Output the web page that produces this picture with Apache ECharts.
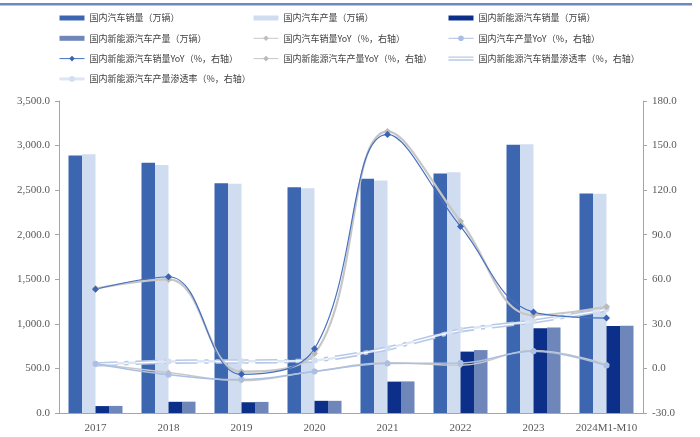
<!DOCTYPE html>
<html>
<head>
<meta charset="utf-8">
<script src="https://cdn.jsdelivr.net/npm/echarts@6/dist/echarts.min.js"></script>
<style>
  html, body { margin: 0; padding: 0; background: #fff; }
  #chart { width: 700px; height: 437px; }
</style>
</head>
<body>
<div id="chart"></div>
<script>
// China auto / NEV output and sales, 2017 – 2024M1-M10
const categories = ['2017', '2018', '2019', '2020', '2021', '2022', '2023', '2024M1-M10'];

// 万辆 (left axis)
const autoSales = [2887.9, 2808.1, 2576.9, 2531.1, 2627.5, 2686.4, 3009.4, 2462.6];
const autoOutput = [2901.5, 2780.9, 2572.1, 2522.5, 2608.2, 2702.1, 3016.1, 2459.0];
const nevSales = [77.7, 125.6, 120.6, 136.7, 352.1, 688.7, 949.5, 975.0];
const nevOutput = [79.4, 127.0, 124.2, 136.6, 354.5, 705.8, 958.7, 977.9];

// % (right axis)
const autoSalesYoY = [3.0, -2.8, -8.2, -1.9, 3.8, 2.2, 12.0, 2.7];
const autoOutputYoY = [3.2, -4.2, -7.5, -2.0, 3.4, 3.6, 11.6, 1.9];
const nevSalesYoY = [53.3, 61.7, -4.0, 13.3, 157.5, 95.6, 37.9, 33.9];
const nevOutputYoY = [53.8, 59.9, -2.2, 10.0, 159.5, 99.1, 35.8, 41.5];
const nevSalesShare = [2.7, 4.5, 4.7, 5.4, 13.4, 25.6, 31.6, 39.6];
const nevOutputShare = [2.7, 4.6, 4.8, 5.4, 13.6, 26.1, 31.8, 40.0];

const N = {
  autoSales: '国内汽车销量（万辆）',
  autoOutput: '国内汽车产量（万辆）',
  nevSales: '国内新能源汽车销量（万辆）',
  nevOutput: '国内新能源汽车产量（万辆）',
  autoSalesYoY: '国内汽车销量YoY（%，右轴）',
  autoOutputYoY: '国内汽车产量YoY（%，右轴）',
  nevSalesYoY: '国内新能源汽车销量YoY（%，右轴）',
  nevOutputYoY: '国内新能源汽车产量YoY（%，右轴）',
  nevSalesShare: '国内新能源汽车销量渗透率（%，右轴）',
  nevOutputShare: '国内新能源汽车产量渗透率（%，右轴）'
};

const C = {
  autoSales: '#3d66b0',
  autoOutput: '#d0ddf1',
  nevSales: '#0c308a',
  nevOutput: '#6e86ba',
  autoSalesYoY: '#c9c9c9',
  autoOutputYoY: '#aabfe3',
  nevSalesYoY: '#4670c0',
  nevOutputYoY: '#c6c6c6',
  nevSalesShare: '#b7c9e8',
  nevOutputShare: '#dde6f4'
};

const axisFont = { fontFamily: 'Liberation Serif', fontSize: 11, color: '#595959' };
const legendText = { fontFamily: 'Noto Sans CJK SC', fontSize: 9, color: '#404040', lineHeight: 12 };
const barIcon = 'path://M0,0H25V5H0Z';
const doubleLineIcon = 'path://M0,0H30V1.6H0Z M0,3.4H30V5H0Z';
const thinLine = { width: 1 };

function legendColumn(left, items) {
  return {
    orient: 'vertical',
    left: left,
    top: 7,
    itemWidth: 25,
    itemHeight: 7,
    itemGap: 8.3,
    textStyle: legendText,
    selectedMode: false,
    data: items
  };
}

function bar(key, data) {
  return {
    name: N[key], type: 'bar', yAxisIndex: 0, data: data,
    barWidth: 13.5, barGap: '0%',
    itemStyle: { color: C[key] }
  };
}

function line(key, data, opts) {
  return Object.assign({
    name: N[key], type: 'line', yAxisIndex: 1, data: data,
    smooth: 0.4,
    symbol: 'diamond', symbolSize: 7,
    lineStyle: { color: C[key], width: 1.5 },
    itemStyle: { color: C[key] }
  }, opts || {});
}

const dashDot = [22, 7, 4, 7];

const option = {
  backgroundColor: '#ffffff',
  animation: false,
  graphic: [{
    type: 'rect', shape: { x: 0, y: 3, width: 692, height: 2.5 },
    style: { fill: '#6f87c1' }
  }],
  legend: [
    legendColumn(53, [
      { name: N.autoSales, icon: barIcon },
      { name: N.nevOutput, icon: barIcon },
      { name: N.nevSalesYoY, lineStyle: thinLine },
      { name: N.nevOutputShare, lineStyle: { width: 3 } }
    ]),
    legendColumn(248, [
      { name: N.autoOutput, icon: barIcon },
      { name: N.autoSalesYoY, lineStyle: thinLine },
      { name: N.nevOutputYoY, lineStyle: thinLine }
    ]),
    legendColumn(443, [
      { name: N.nevSales, icon: barIcon },
      { name: N.autoOutputYoY, lineStyle: thinLine },
      { name: N.nevSalesShare, icon: doubleLineIcon }
    ])
  ],
  grid: { left: 59, right: 57, top: 101, bottom: 24, containLabel: false },
  xAxis: {
    type: 'category', data: categories,
    axisLine: { lineStyle: { color: '#a6a6a6', width: 1 } },
    axisTick: { show: false },
    axisLabel: Object.assign({ margin: 10, interval: 0 }, axisFont),
    splitLine: { show: false }
  },
  yAxis: [{
    type: 'value', min: 0, max: 3500, interval: 500,
    axisLine: { show: true, lineStyle: { color: '#a6a6a6' } },
    axisTick: { show: true, length: 4, lineStyle: { color: '#a6a6a6' } },
    splitLine: { show: false },
    axisLabel: Object.assign({
      margin: 9,
      formatter: v => v.toLocaleString('en-US', { minimumFractionDigits: 1, maximumFractionDigits: 1 })
    }, axisFont)
  }, {
    type: 'value', min: -30, max: 180, interval: 30,
    position: 'right',
    axisLine: { show: true, lineStyle: { color: '#a6a6a6' } },
    axisTick: { show: true, length: 4, lineStyle: { color: '#a6a6a6' } },
    splitLine: { show: false },
    axisLabel: Object.assign({ margin: 9, formatter: v => v.toFixed(1) }, axisFont)
  }],
  series: [
    bar('autoSales', autoSales),
    bar('autoOutput', autoOutput),
    bar('nevSales', nevSales),
    bar('nevOutput', nevOutput),
    line('nevOutputShare', nevOutputShare, {
      smooth: 0.2, symbol: 'circle', symbolSize: 6,
      lineStyle: { color: C.nevOutputShare, width: 2.5 },
      itemStyle: { color: '#d3def1' }
    }),
    line('nevSalesShare', nevSalesShare, {
      smooth: 0.2, symbol: 'none',
      lineStyle: { color: C.nevSalesShare, width: 4.5, type: dashDot }
    }),
    // white core so the dash-dot stroke reads as a double line
    {
      type: 'line', yAxisIndex: 1, data: nevSalesShare, smooth: 0.2, symbol: 'none',
      silent: true,
      lineStyle: { color: '#ffffff', width: 1.4, type: dashDot }
    },
    line('autoSalesYoY', autoSalesYoY, { symbolSize: 6, itemStyle: { color: '#bfbfbf' } }),
    line('autoOutputYoY', autoOutputYoY, { symbol: 'circle', symbolSize: 6 }),
    line('nevOutputYoY', nevOutputYoY, {
      lineStyle: { color: C.nevOutputYoY, width: 2.2 },
      itemStyle: { color: '#bababa' }
    }),
    line('nevSalesYoY', nevSalesYoY, {
      symbolSize: 7,
      lineStyle: { color: C.nevSalesYoY, width: 1.2 },
      itemStyle: { color: '#3a63b3' }
    })
  ]
};

const chart = echarts.init(document.getElementById('chart'), null, { renderer: 'canvas' });
chart.setOption(option);
</script>
</body>
</html>
